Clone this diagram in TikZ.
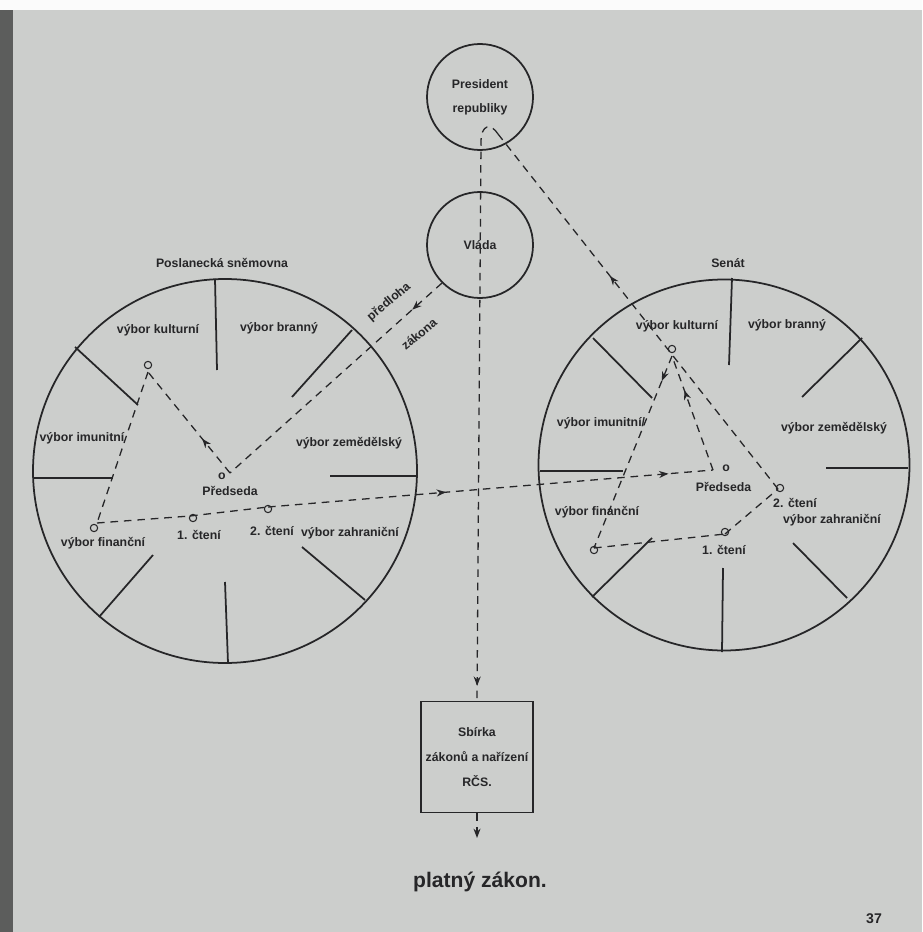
\documentclass[tikz,border=0pt]{standalone}
\usepackage{fontspec}
\setmainfont{Liberation Sans}
\usetikzlibrary{arrows.meta,decorations.markings}
\definecolor{paper}{RGB}{204,206,204}
\definecolor{ink}{RGB}{38,38,40}
\begin{document}
\begin{tikzpicture}[x=0.03cm,y=-0.03cm,
  every node/.style={font=\bfseries\fontsize{10.5}{12.5}\selectfont, text=ink, inner sep=0pt},
  ring/.style={draw=ink, line width=1.5pt},
  spoke/.style={draw=ink, line width=1.5pt},
  conn/.style={draw=ink, line width=1.1pt, dash pattern=on 6.5pt off 5pt},
  marr/.style={postaction={decorate,decoration={markings,mark=at position #1 with {\pgfsetdash{}{0pt}\arrow{Stealth[length=8pt,width=6pt]}}}}},
  loopc/.style={circle, draw=ink, line width=0.9pt, minimum size=0.22cm, inner sep=0pt},
  bignode/.style={circle, draw=ink, line width=1.5pt, minimum size=3.18cm, align=center},
  boxnode/.style={draw=ink, line width=1.5pt, minimum width=3.36cm, minimum height=3.33cm, align=center},
]
% page
\fill[paper] (0,0) rectangle (922,932);
\fill[white!92!paper] (0,0) rectangle (922,10);
\fill[black!55!paper] (0,10) rectangle (13,932);
\useasboundingbox (0,0) rectangle (922,932);

% top nodes
\node[bignode] (pres) at (480,97) {President\\[8pt]republiky};
\node[bignode] (vlada) at (480,245) {Vláda};
\node[boxnode] (sbirka) at (477,757) {Sbírka\\[9pt]zákonů a nařízení\\[9pt]RČS.};
\node[font=\bfseries\fontsize{18}{20}\selectfont] (platny) at (480,882) {platný zákon.};
\node[font=\bfseries\fontsize{12}{14}\selectfont] (pagenum) at (874,919) {37};

% Poslanecka snemovna
\draw[ring] (225,471) circle[radius=192];
\node (pstitle) at (222,263) {Poslanecká sněmovna};
\draw[spoke] (215,279) -- (217,370);
\draw[spoke] (352,330) -- (292,397);
\draw[spoke] (75,347) -- (138,405);
\draw[spoke] (33,478) -- (113,478);
\draw[spoke] (417,476) -- (330,476);
\draw[spoke] (99,617) -- (153,555);
\draw[spoke] (228,663) -- (225,582);
\draw[spoke] (365,600) -- (302,547);
\node (lk) at (158,330) {výbor kulturní};
\node (lb) at (279,328) {výbor branný};
\node (li) at (82,438) {výbor imunitní};
\node (lz) at (349,443) {výbor zemědělský};
\node (lo) at (222,476) {o};
\node (lp) at (230,491) {Předseda};
\node (lf) at (103,543) {výbor finanční};
\node (l1) at (199,535) {1. čtení};
\node (l2) at (272,531) {2. čtení};
\node (lzh) at (350,533) {výbor zahraniční};

% Senat
\draw[ring] (724,465) circle[radius=185.5];
\node (sntitle) at (728,263) {Senát};
\draw[spoke] (732,278) -- (729,365);
\draw[spoke] (862,338) -- (802,397);
\draw[spoke] (593,338) -- (652,398);
\draw[spoke] (540,471) -- (623,471);
\draw[spoke] (908,468) -- (826,468);
\draw[spoke] (592,597) -- (652,538);
\draw[spoke] (722,652) -- (723,568);
\draw[spoke] (847,598) -- (793,543);
\node (rk) at (677,326) {výbor kulturní};
\node (rb) at (787,325) {výbor branný};
\node (ri) at (601,423) {výbor imunitní/};
\node (rz) at (834,428) {výbor zemědělský};
\node (ro) at (726,468) {o};
\node (rp) at (723.5,487) {Předseda};
\node (rf) at (597,512) {výbor finanční};
\node (r2) at (795,503) {2. čtení};
\node (rzh) at (832,520) {výbor zahraniční};
\node (r1) at (724,550) {1. čtení};

% junction points
\coordinate (lPred) at (230,473);
\coordinate (lKult) at (148,372);
\coordinate (lFin) at (97,523);
\coordinate (lC1) at (190,516);
\coordinate (lC2) at (268,507);
\coordinate (rPred) at (713,470);
\coordinate (rKult) at (672,356);
\coordinate (rFin) at (594,548);
\coordinate (rC1) at (725,534);
\coordinate (rC2) at (778,489);
\coordinate (hA) at (498,134);
\coordinate (hB) at (481,142);
\coordinate (outEnd) at (477,838);

% loops
\node[loopc] (lKultL) at (148,365) {};
\node[loopc] (lFinL) at (94,528) {};
\node[loopc] (lC1L) at (193,518) {};
\node[loopc] (lC2L) at (268,509) {};
\node[loopc] (rKultL) at (672,349) {};
\node[loopc] (rFinL) at (594,550) {};
\node[loopc] (rC1L) at (725,532) {};
\node[loopc] (rC2L) at (780,488) {};

% connectors
\draw[conn, marr=0.14] (vlada.225) -- (lPred);
\node[rotate=40] (predl) at (389,302) {předloha};
\node[rotate=40] (zak) at (419,334) {zákona};
\draw[conn, marr=0.34] (lPred) -- (lKult);
\draw[conn] (lKult) -- (lFin);
\draw[conn] (lFin) -- (lC1);
\draw[conn] (lC1) -- (lC2);
\draw[conn, marr=0.40, marr=0.90] (lC2) -- (rPred);
\draw[conn, marr=0.7] (rPred) -- (rKult);
\draw[conn, marr=0.13] (rKult) -- (rFin);
\draw[conn] (rFin) -- (rC1);
\draw[conn] (rC1) -- (rC2);
\draw[conn, marr=0.6] (rC2) -- (hA);
\draw[conn, marr=0.975] (hA) .. controls (491,123) and (481,124) .. (hB) -- (sbirka.north);
\draw[conn, -{Stealth[length=8pt,width=6pt]}] (sbirka.south) -- (outEnd);
\end{tikzpicture}
\end{document}
